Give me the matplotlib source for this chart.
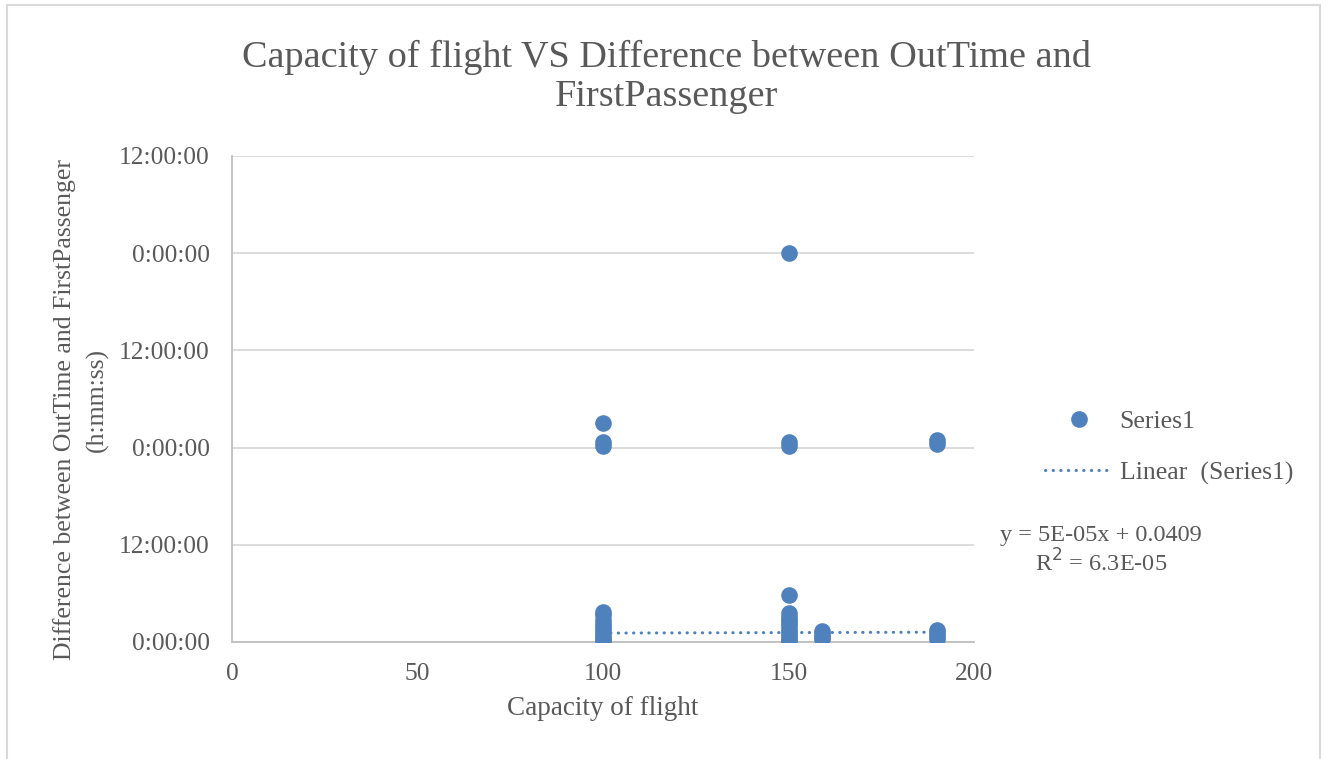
import matplotlib
matplotlib.use("Agg")
import matplotlib.pyplot as plt
from matplotlib.lines import Line2D
from matplotlib.ticker import FuncFormatter, MultipleLocator
import numpy as np

# capacity of flight vs time gap (in days, Excel time serial)
capacity = [100, 100, 100, 100, 100, 100, 100, 100, 100, 100, 100, 100, 100,
            150, 150, 150, 150, 150, 150, 150, 150, 150, 150, 150, 150, 150, 150,
            159, 159, 159, 159,
            190, 190, 190, 190, 190, 190]
time_diff = [1.127, 1.03, 1.01, 0.156, 0.14, 0.113, 0.095, 0.079, 0.062, 0.046, 0.03, 0.015, 0.005,
             2.0, 1.03, 1.01, 0.24, 0.147, 0.13, 0.113, 0.097, 0.08, 0.062, 0.046, 0.03, 0.015, 0.005,
             0.055, 0.04, 0.025, 0.015,
             1.04, 1.02, 0.062, 0.045, 0.03, 0.018]

slope = 5e-05
intercept = 0.0409
x_ticks = [0, 50, 100, 150, 200]

blue = "#4f81bd"
grey = "#595959"
plt.rcParams["font.family"] = ["Liberation Serif", "DejaVu Serif"]

fig = plt.figure(figsize=(13.27, 7.59), dpi=100)
ax = fig.add_axes([232/1327, 1-642/759, (974-232)/1327, (642-156)/759])

ax.scatter(capacity, time_diff, s=120, color=blue, zorder=3, label="Series1")
tx = np.array([min(capacity), max(capacity)])
ax.plot(tx, slope*tx + intercept, color=blue, lw=2.2, linestyle=(0, (0.1, 2.4)),
        dash_capstyle="round", zorder=2, label="Linear  (Series1)")

ax.set_xlim(0, 200)
ax.set_ylim(0, 2.5)
ax.set_xticks(x_ticks)
ax.yaxis.set_major_locator(MultipleLocator(0.5))

def fmt_time(v, pos):
    secs = int(round(v*86400)) % 86400
    return "%d:%02d:%02d" % (secs // 3600, (secs % 3600) // 60, secs % 60)

ax.yaxis.set_major_formatter(FuncFormatter(fmt_time))
ax.grid(axis="y", color="#d9d9d9", lw=1.3)
ax.set_axisbelow(True)
for s in ["top", "right"]:
    ax.spines[s].set_visible(False)
for s in ["left", "bottom"]:
    ax.spines[s].set_color("#bfbfbf")
    ax.spines[s].set_linewidth(1.3)
ax.tick_params(length=0, labelsize=18.4, colors=grey)
ax.tick_params(axis="y", pad=16)
ax.tick_params(axis="x", pad=15)

ax.set_xlabel("Capacity of flight", fontsize=19.5, color=grey, labelpad=8)
fig.text(65/1327, 1-410/759, "Difference between OutTime and FirstPassenger",
         rotation=90, ha="center", va="center", fontsize=18.5, color=grey)
fig.text(97/1327, 1-400/759, "(h:mm:ss)", rotation=90, ha="center", va="center",
         fontsize=18.5, color=grey)

fig.text(667/1327, 1-77/759, "Capacity of flight VS Difference between OutTime and\nFirstPassenger",
         ha="center", va="center", fontsize=27.5, color=grey, linespacing=1.2)

handles = [Line2D([], [], marker="o", ls="none", color=blue, markersize=11),
           Line2D([], [], color=blue, lw=2.2, linestyle=(0, (0.1, 2.4)), dash_capstyle="round")]
leg = fig.legend(handles, ["Series1", "Linear  (Series1)"], loc="upper left",
                 bbox_to_anchor=(1022/1327, 1-387/759), frameon=False, fontsize=18.5,
                 handlelength=2.6, handletextpad=0.3, labelspacing=1.1)
for t in leg.get_texts():
    t.set_color(grey)

fig.text(1101/1327, 1-536/759, "y = 5E-05x + 0.0409", ha="center", va="center",
         fontsize=17.5, color=grey)
fig.text(1101/1327, 1-563/759, "R$^2$ = 6.3E-05", ha="center", va="center",
         fontsize=17.5, color=grey)

fig.patches.append(plt.Rectangle((7/1327, -0.01), 1313/1327, 1-5/759+0.01, transform=fig.transFigure,
                                 fill=False, edgecolor="#d9d9d9", lw=1.5))

fig.savefig("out.png", dpi=100, facecolor="white")
